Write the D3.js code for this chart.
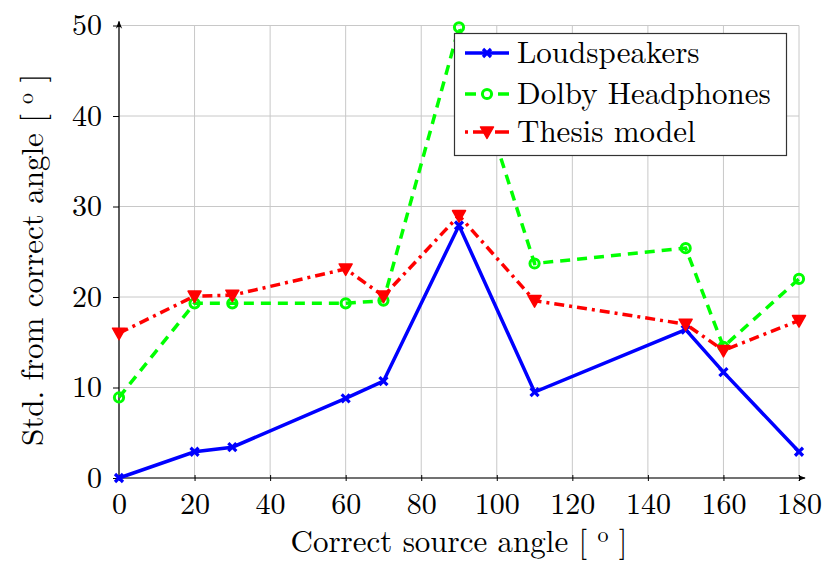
<!DOCTYPE html>
<html><head><meta charset="utf-8">
<script src="https://cdn.jsdelivr.net/npm/d3@7"></script>
<style>body{margin:0;background:#fff}svg{display:block}text{font-family:"Latin Modern Roman","Liberation Serif",serif;fill:#000}</style>
</head><body>
<svg id="c" width="826" height="561"></svg>
<script>
const angles = [0, 20, 30, 60, 70, 90, 110, 150, 160, 180];
const loudspeakers = [0, 2.9, 3.4, 8.8, 10.7, 27.9, 9.5, 16.4, 11.7, 2.9];
const dolby = [8.9, 19.3, 19.3, 19.3, 19.6, 49.8, 23.7, 25.4, 14.5, 22.0];
const thesis = [16.0, 20.1, 20.2, 23.1, 20.1, 29.0, 19.6, 17.0, 14.1, 17.4];
const xTicks = [0, 20, 40, 60, 80, 100, 120, 140, 160, 180];
const yTicks = [0, 10, 20, 30, 40, 50];
const seriesNames = ["Loudspeakers", "Dolby Headphones", "Thesis model"];

const FONT = '"Latin Modern Roman","Liberation Serif",serif';
const svg = d3.select("#c");
const x = d3.scaleLinear().domain([0, 180]).range([119, 799]);
const y = d3.scaleLinear().domain([0, 50]).range([478, 25.5]);

// grid
const g = svg.append("g");
g.selectAll(".vg").data(xTicks).join("line")
  .attr("x1", d => x(d)).attr("x2", d => x(d)).attr("y1", y(0)).attr("y2", y(50))
  .attr("stroke", "#c8c8c8").attr("stroke-width", 1);
g.selectAll(".hg").data(yTicks).join("line")
  .attr("x1", x(0)).attr("x2", x(180)).attr("y1", d => y(d)).attr("y2", d => y(d))
  .attr("stroke", "#c8c8c8").attr("stroke-width", 1);

// axes
const xAxis = d3.axisBottom(x).tickValues(xTicks).tickSize(6).tickFormat(d3.format("d"));
const yAxis = d3.axisLeft(y).tickValues(yTicks).tickSize(6).tickFormat(d3.format("d"));
const gx = svg.append("g").attr("transform", `translate(0,${y(0)})`).call(xAxis);
const gy = svg.append("g").attr("transform", `translate(${x(0)},0)`).call(yAxis);
[gx, gy].forEach(a => {
  a.attr("font-family", FONT).attr("font-size", 30);
  a.select(".domain").remove();
  a.selectAll(".tick line").attr("stroke", "#000").attr("stroke-width", 1);
  a.selectAll(".tick text").attr("fill", "#000");
});
gx.selectAll(".tick line").attr("y1", -3).attr("y2", 3);
gy.selectAll(".tick line").attr("x1", -6).attr("x2", 0);
gx.selectAll(".tick text").attr("y", 36).attr("dy", null);
gy.selectAll(".tick text").attr("x", -17).attr("dy", "0.3em");

// axis lines with arrows
const defs = svg.append("defs");
defs.append("marker").attr("id", "arr").attr("viewBox", "0 0 10 10").attr("refX", 9).attr("refY", 5)
  .attr("markerWidth", 8).attr("markerHeight", 8).attr("orient", "auto-start-reverse")
  .attr("markerUnits", "userSpaceOnUse")
  .append("path").attr("d", "M0,1 Q5,5 0,9 L10,5 Z").attr("fill", "#000");
svg.append("line").attr("x1", x(0)).attr("x2", x(180) + 6).attr("y1", y(0)).attr("y2", y(0))
  .attr("stroke", "#000").attr("stroke-width", 1.2).attr("marker-end", "url(#arr)");
svg.append("line").attr("x1", x(0)).attr("x2", x(0)).attr("y1", y(0)).attr("y2", y(50) - 4)
  .attr("stroke", "#000").attr("stroke-width", 1.2).attr("marker-end", "url(#arr)");

// series
const series = [
  {name: seriesNames[0], vals: loudspeakers, color: "#0000ff", dash: null, ldash: null, marker: "x"},
  {name: seriesNames[1], vals: dolby, color: "#00ff00", dash: "10,7", ldash: "11,22,11", marker: "o"},
  {name: seriesNames[2], vals: thesis, color: "#ff0000", dash: "10,5,3,5", ldash: "3,5,17,5,14", marker: "v"}
];
const line = d3.line().x(d => x(d[0])).y(d => y(d[1]));
function drawMarker(sel, type, color) {
  if (type === "x") {
    sel.append("path").attr("d", "M-4,-4L4,4M-4,4L4,-4").attr("stroke", color).attr("stroke-width", 3.2).attr("fill", "none");
  } else if (type === "o") {
    sel.append("circle").attr("r", 4.6).attr("fill", "none").attr("stroke", color).attr("stroke-width", 3);
  } else {
    sel.append("path").attr("d", "M-6.5,-5L6.5,-5L0,6.5Z").attr("fill", color).attr("stroke", color).attr("stroke-width", 1.5).attr("stroke-linejoin", "round");
  }
}
series.forEach(s => {
  const pts = angles.map((a, i) => [a, s.vals[i]]);
  svg.append("path").datum(pts).attr("d", line).attr("fill", "none")
    .attr("stroke", s.color).attr("stroke-width", 3.5)
    .attr("stroke-dasharray", s.dash);
  pts.forEach(p => {
    const m = svg.append("g").attr("transform", `translate(${x(p[0])},${y(p[1])})`);
    drawMarker(m, s.marker, s.color);
  });
});

// legend
const lg = svg.append("g");
lg.append("rect").attr("x", 454.5).attr("y", 33.5).attr("width", 332).attr("height", 122)
  .attr("fill", "#fff").attr("stroke", "#333").attr("stroke-width", 1.2);
const ly = [53, 94, 132];
series.forEach((s, i) => {
  lg.append("line").attr("x1", 465).attr("x2", 509).attr("y1", ly[i]).attr("y2", ly[i])
    .attr("stroke", s.color).attr("stroke-width", 3.5).attr("stroke-dasharray", s.ldash);
  const m = lg.append("g").attr("transform", `translate(487,${ly[i]})`);
  drawMarker(m, s.marker, s.color);
  lg.append("text").attr("x", 517).attr("y", ly[i] + 10).style("font-size", "31px").text(s.name);
});

// axis titles
const xt = svg.append("text").attr("x", 459).attr("y", 552).attr("text-anchor", "middle").style("font-size", "31px");
xt.append("tspan").text("Correct source angle [ ");
xt.append("tspan").attr("dy", -10).style("font-size", "22px").text("o");
xt.append("tspan").attr("dy", 10).text(" ]");
const yt = svg.append("text").attr("transform", "translate(43,260) rotate(-90)").attr("text-anchor", "middle").style("font-size", "31px");
yt.append("tspan").text("Std. from correct angle [ ");
yt.append("tspan").attr("dy", -10).style("font-size", "22px").text("o");
yt.append("tspan").attr("dy", 10).text(" ]");
</script>
</body></html>
